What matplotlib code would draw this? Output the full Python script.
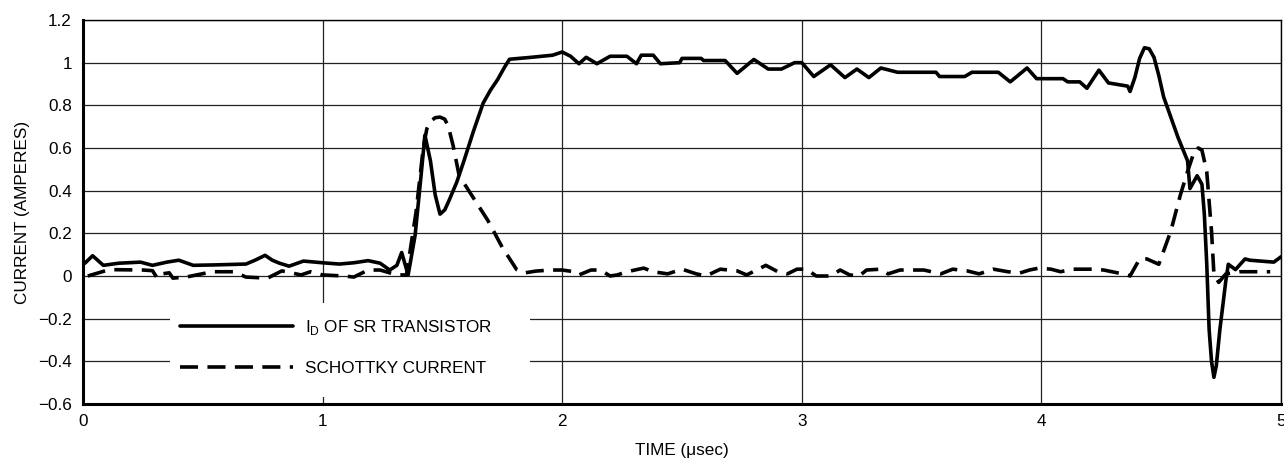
import matplotlib.pyplot as plt
from matplotlib.patches import Rectangle

plt.rcParams['font.family'] = ['Liberation Sans', 'DejaVu Sans']
plt.rcParams['mathtext.fontset'] = 'custom'
plt.rcParams['mathtext.rm'] = 'Liberation Sans'

# I_D of SR transistor (time in usec, current in A)
t_id = [0.008, 0.04, 0.085, 0.15, 0.24, 0.29, 0.35, 0.40, 0.46, 0.55, 0.68, 0.72,
        0.76, 0.79, 0.82, 0.86, 0.92, 1.0, 1.07, 1.13, 1.19, 1.24, 1.28, 1.31,
        1.33, 1.357, 1.386, 1.41, 1.427, 1.45, 1.47, 1.49, 1.51, 1.53, 1.56, 1.59,
        1.63, 1.67, 1.70, 1.73, 1.76, 1.78,
        1.87, 1.96, 2.0, 2.035, 2.07, 2.10, 2.145, 2.20, 2.27, 2.31, 2.33, 2.38,
        2.41, 2.49, 2.50, 2.58, 2.59, 2.68, 2.73, 2.80, 2.86, 2.915, 2.97, 3.0,
        3.05, 3.12, 3.18, 3.23, 3.28, 3.33, 3.40, 3.56, 3.575, 3.68, 3.71, 3.82,
        3.87, 3.94, 3.98, 4.09, 4.11, 4.16, 4.19, 4.24, 4.28, 4.36, 4.37, 4.39,
        4.41, 4.43, 4.45, 4.47, 4.49, 4.51, 4.57, 4.61, 4.62, 4.65, 4.67, 4.68,
        4.69, 4.70, 4.71, 4.72, 4.73, 4.745, 4.77, 4.78, 4.81, 4.85, 4.87, 4.97, 5.0]
i_id = [0.06, 0.095, 0.05, 0.06, 0.065, 0.05, 0.065, 0.074, 0.05, 0.052, 0.056, 0.075,
        0.097, 0.074, 0.06, 0.046, 0.07, 0.062, 0.056, 0.062, 0.072, 0.06, 0.028, 0.05,
        0.11, 0.005, 0.19, 0.46, 0.66, 0.54, 0.38, 0.29, 0.31, 0.36, 0.44, 0.54,
        0.68, 0.81, 0.87, 0.92, 0.98, 1.016,
        1.025, 1.035, 1.05, 1.03, 0.995, 1.025, 0.995, 1.03, 1.03, 0.995, 1.035, 1.035,
        0.995, 1.0, 1.02, 1.02, 1.01, 1.01, 0.95, 1.015, 0.97, 0.97, 1.0, 1.0,
        0.935, 0.99, 0.93, 0.97, 0.93, 0.975, 0.955, 0.955, 0.935, 0.935, 0.955, 0.955,
        0.91, 0.975, 0.925, 0.925, 0.91, 0.91, 0.88, 0.965, 0.905, 0.89, 0.865, 0.93,
        1.02, 1.07, 1.065, 1.025, 0.94, 0.84, 0.65, 0.54, 0.41, 0.47, 0.43, 0.29,
        0.06, -0.25, -0.40, -0.475, -0.42, -0.25, -0.02, 0.055, 0.03, 0.08, 0.074, 0.065, 0.09]

# Schottky current
t_sch = [0.02, 0.11, 0.25, 0.29, 0.31, 0.33, 0.36, 0.375, 0.43, 0.54, 0.63, 0.68,
         0.77, 0.83, 0.91, 0.95, 1.0, 1.09, 1.13, 1.19, 1.24, 1.31, 1.35, 1.39,
         1.42, 1.435, 1.45, 1.47, 1.49, 1.51, 1.525, 1.545, 1.57, 1.63, 1.69, 1.75,
         1.81, 1.84,
         1.89, 1.95, 2.0, 2.05, 2.07, 2.12, 2.16, 2.2, 2.23, 2.27, 2.34, 2.38,
         2.44, 2.50, 2.56, 2.60, 2.66, 2.73, 2.77, 2.85, 2.90, 2.94, 2.98, 3.02,
         3.06, 3.12, 3.16, 3.2, 3.24, 3.27, 3.33, 3.36, 3.41, 3.51, 3.58, 3.63,
         3.69, 3.74, 3.80, 3.86, 3.91, 3.95, 3.99, 4.04, 4.08, 4.13, 4.22, 4.26,
         4.36, 4.37, 4.41, 4.44, 4.49, 4.54, 4.58, 4.61, 4.64, 4.655, 4.67, 4.69,
         4.71, 4.72, 4.74, 4.77, 4.83, 4.955]
i_sch = [0.0, 0.03, 0.028, 0.025, -0.01, 0.01, 0.015, -0.01, -0.005, 0.02, 0.02, -0.005,
         -0.01, 0.024, 0.005, 0.02, 0.005, 0.0, -0.005, 0.028, 0.028, 0.005, 0.005, 0.3,
         0.6, 0.69, 0.725, 0.742, 0.745, 0.735, 0.70, 0.61, 0.47, 0.365, 0.26, 0.134,
         0.03, 0.014,
         0.023, 0.028, 0.028, 0.02, 0.005, 0.028, 0.028, 0.0, 0.005, 0.02, 0.037, 0.02,
         0.01, 0.032, 0.01, 0.0, 0.032, 0.024, 0.005, 0.05, 0.02, 0.01, 0.032, 0.032,
         0.0, 0.0, 0.028, 0.005, 0.0, 0.028, 0.032, 0.01, 0.028, 0.028, 0.01, 0.032,
         0.024, 0.01, 0.032, 0.02, 0.014, 0.028, 0.037, 0.032, 0.02, 0.032, 0.032, 0.028,
         0.005, 0.0, 0.08, 0.08, 0.055, 0.21, 0.38, 0.49, 0.59, 0.60, 0.59, 0.49,
         0.21, 0.01, -0.03, 0.01, 0.02, 0.02]

x_ticks = [0, 1, 2, 3, 4, 5]
y_ticks = [-0.6, -0.4, -0.2, 0, 0.2, 0.4, 0.6, 0.8, 1, 1.2]
y_labels = ['\u22120.6', '\u22120.4', '\u22120.2', '0', '0.2', '0.4', '0.6', '0.8', '1', '1.2']

fig = plt.figure(figsize=(12.84, 4.63), dpi=100)
ax = fig.add_axes([83 / 1284, 59 / 463, 1198 / 1284, 384 / 463])

ax.plot(t_id, i_id, color='black', lw=2.6, solid_joinstyle='round',
        solid_capstyle='round', zorder=3, label='I$_{\\mathregular{D}}$ OF SR TRANSISTOR')
ax.plot(t_sch, i_sch, color='black', lw=2.6, linestyle=(0, (5, 2.6)),
        dash_capstyle='butt', dash_joinstyle='round', zorder=3, label='SCHOTTKY CURRENT')

ax.set_xlim(0, 5)
ax.set_ylim(-0.6, 1.2)
ax.set_xticks(x_ticks)
ax.set_xticklabels([str(v) for v in x_ticks])
ax.set_yticks(y_ticks)
ax.set_yticklabels(y_labels)
ax.tick_params(length=0, labelsize=12.3, colors='black')
ax.tick_params(axis='y', pad=8)
ax.tick_params(axis='x', pad=7)

ax.set_axisbelow(True)
ax.grid(True, color='#222222', lw=0.9)

for side in ['left', 'bottom']:
    ax.spines[side].set_linewidth(2.2)
for side in ['top', 'right']:
    ax.spines[side].set_linewidth(1.0)

# white box behind the legend that breaks the grid
ax.add_patch(Rectangle(((170 - 83) / 1198, (404 - 397) / 384), 360 / 1198, 94 / 384,
                       transform=ax.transAxes, facecolor='white', edgecolor='none', zorder=1))

leg = ax.legend(loc='center left', bbox_to_anchor=((180 - 83) / 1198, (404 - 347) / 384),
                frameon=False, fontsize=12.3, handlelength=6.6, handletextpad=0.7,
                labelspacing=1.35, borderpad=0, borderaxespad=0)
leg.set_zorder(5)

ax.set_xlabel('TIME (\u03bcsec)', fontsize=12.3, labelpad=10)
ax.set_ylabel('CURRENT (AMPERES)', fontsize=12.3, labelpad=6)

fig.savefig('out.png', dpi=100)
